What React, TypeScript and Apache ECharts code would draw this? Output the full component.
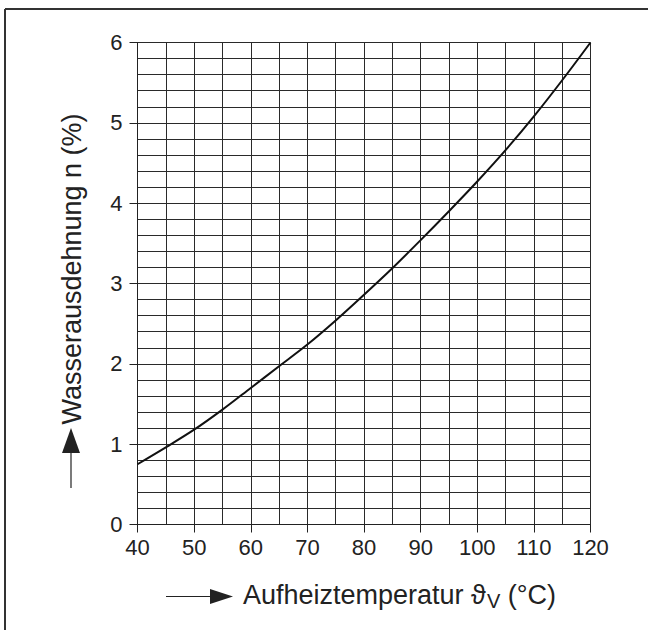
import React, { useEffect, useRef } from "react";
import * as echarts from "echarts";

const temperatures = [40, 45, 50, 55, 60, 65, 70, 75, 80, 85, 90, 95, 100, 105, 110, 115, 120];
const expansion = [0.75, 0.96, 1.18, 1.43, 1.7, 1.97, 2.24, 2.54, 2.86, 3.19, 3.54, 3.9, 4.27, 4.66, 5.08, 5.53, 6.0];
const yAxisTitle = "Wasserausdehnung n (%)";
const xTitleMain = "Aufheiztemperatur ϑ";
const xTitleSub = "V";
const xTitleEnd = " (°C)";

const FONT = '"Liberation Sans", Arial, Helvetica, sans-serif';
const INK = "#222";

function measure(text: string, size: number): number {
  const c = document.createElement("canvas").getContext("2d");
  if (!c) return text.length * size * 0.55;
  c.font = `${size}px ${FONT}`;
  return c.measureText(text).width;
}

export default function App() {
  const ref = useRef<HTMLDivElement>(null);
  useEffect(() => {
    if (!ref.current) return;
    const chart = echarts.init(ref.current, undefined, { renderer: "svg" });
    const mainSize = 27;
    const subSize = 20;
    const x0 = 243;
    const wMain = measure(xTitleMain, mainSize);
    const wSub = measure(xTitleSub, subSize);
    const gridLine = { show: true, lineStyle: { color: "#2a2a2a", width: 1 } };
    chart.setOption({
      animation: false,
      backgroundColor: "#fff",
      grid: { left: 137.5, right: 57.5, top: 42.5, bottom: 105.5, containLabel: false },
      xAxis: {
        type: "value",
        min: 40,
        max: 120,
        interval: 10,
        axisLine: { show: true, lineStyle: { color: INK, width: 1 } },
        axisTick: { show: true, length: 8, inside: false, lineStyle: { color: INK } },
        axisLabel: { fontSize: 22, color: INK, fontFamily: FONT, margin: 12 },
        splitLine: gridLine,
        minorTick: { show: false, splitNumber: 2 },
        minorSplitLine: gridLine,
      },
      yAxis: {
        type: "value",
        min: 0,
        max: 6,
        interval: 1,
        axisLine: { show: true, lineStyle: { color: INK, width: 1 } },
        axisTick: { show: true, length: 8, inside: false, lineStyle: { color: INK } },
        axisLabel: { fontSize: 22, color: INK, fontFamily: FONT, margin: 15 },
        splitLine: gridLine,
        minorTick: { show: false, splitNumber: 5 },
        minorSplitLine: gridLine,
      },
      series: [
        {
          type: "line",
          data: temperatures.map((t, i) => [t, expansion[i]]),
          smooth: 0.3,
          symbol: "none",
          lineStyle: { color: "#111", width: 2 },
          z: 5,
        },
      ],
      graphic: [
        { type: "line", shape: { x1: 5, y1: 9, x2: 648, y2: 9 }, style: { stroke: "#333", lineWidth: 2 } },
        { type: "line", shape: { x1: 5, y1: 9, x2: 5, y2: 630 }, style: { stroke: "#333", lineWidth: 2 } },
        // y-axis title and arrow
        {
          type: "text",
          x: 72,
          y: 269,
          rotation: Math.PI / 2,
          style: {
            text: yAxisTitle,
            font: `27px ${FONT}`,
            fill: INK,
            align: "center",
            verticalAlign: "middle",
          },
        },
        { type: "line", shape: { x1: 71, y1: 488, x2: 71, y2: 452 }, style: { stroke: INK, lineWidth: 1.2 } },
        { type: "polygon", shape: { points: [[62, 453], [80, 453], [71, 428]] }, style: { fill: INK } },
        // x-axis title and arrow
        { type: "line", shape: { x1: 166, y1: 596.5, x2: 212, y2: 596.5 }, style: { stroke: INK, lineWidth: 1.2 } },
        { type: "polygon", shape: { points: [[210, 589], [210, 604], [233, 596.5]] }, style: { fill: INK } },
        {
          type: "text",
          x: x0,
          y: 595,
          style: { text: xTitleMain, font: `${mainSize}px ${FONT}`, fill: INK, align: "left", verticalAlign: "middle" },
        },
        {
          type: "text",
          x: x0 + wMain + 1,
          y: 601,
          style: { text: xTitleSub, font: `${subSize}px ${FONT}`, fill: INK, align: "left", verticalAlign: "middle" },
        },
        {
          type: "text",
          x: x0 + wMain + 1 + wSub,
          y: 595,
          style: { text: xTitleEnd, font: `${mainSize}px ${FONT}`, fill: INK, align: "left", verticalAlign: "middle" },
        },
      ],
    });
    return () => chart.dispose();
  }, []);
  return (
    <div
      ref={ref}
      style={{ position: "absolute", left: 0, top: 0, width: 648, height: 630, background: "#fff" }}
    />
  );
}
